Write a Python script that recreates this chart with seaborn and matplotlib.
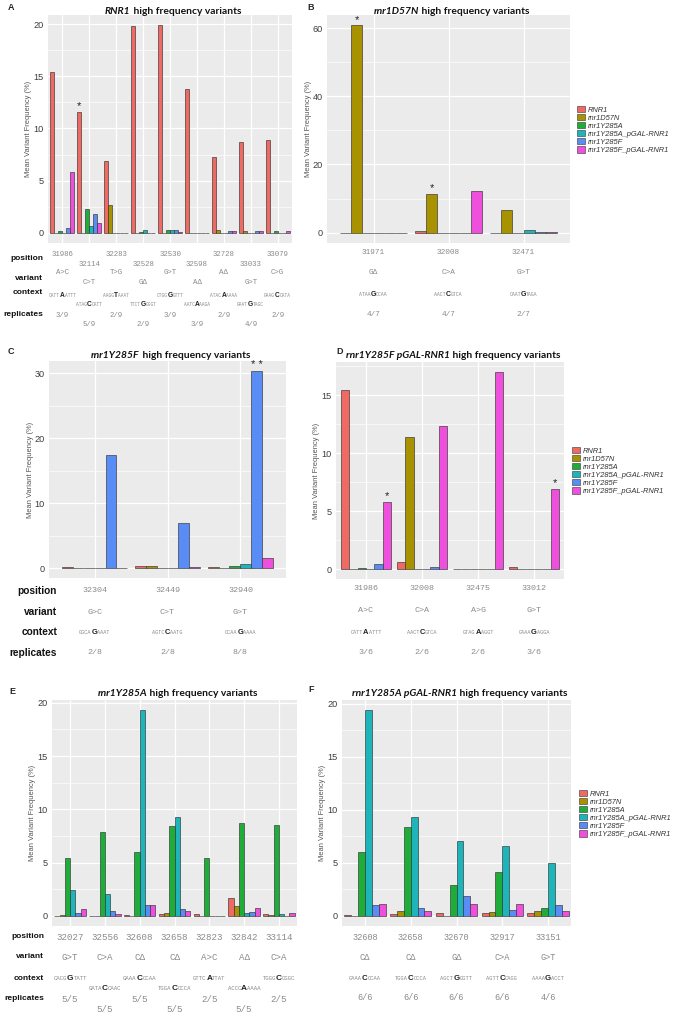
import numpy as np
import pandas as pd
import matplotlib
matplotlib.use("Agg")
import matplotlib.pyplot as plt
import seaborn as sns
from matplotlib.patches import Patch
from matplotlib.transforms import blended_transform_factory
from matplotlib.offsetbox import TextArea, HPacker, AnnotationBbox
from matplotlib.ticker import MultipleLocator

sns.set_style("white")
plt.rcParams["font.family"] = ["Liberation Sans", "DejaVu Sans"]

W, H = 675, 1019

strains = ["RNR1", "rnr1D57N", "rnr1Y285A", "rnr1Y285A_pGAL-RNR1", "rnr1Y285F", "rnr1Y285F_pGAL-RNR1"]
colors = ["#EE6A63", "#A99200", "#1FAD3A", "#1DB5B9", "#5A8CF5", "#EE4FDD"]

# ---- panel A: RNR1
a_pos = ["31986", "32114", "32283", "32528", "32530", "32598", "32728", "33033", "33079"]
a_var = ["A>C", "C>T", "T>G", "GΔ", "G>T", "AΔ", "AΔ", "G>T", "C>G"]
a_ctx = [("CATT", "A", "ATTT"), ("ATAG", "C", "CATT"), ("AAGG", "T", "AAAT"), ("TTCT", "G", "GGGT"),
         ("CTGG", "G", "GTTT"), ("AATC", "A", "AAGA"), ("ATAC", "A", "AAAA"), ("GAAT", "G", "TAGC"),
         ("GAAG", "C", "CATA")]
a_rep = ["3/9", "5/9", "2/9", "2/9", "3/9", "3/9", "2/9", "4/9", "2/9"]
a_rnr1 = [15.4, 11.6, 6.9, 19.8, 19.9, 13.8, 7.3, 8.7, 8.9]
a_d57n = [0, 0, 2.7, 0, 0, 0, 0.3, 0.2, 0]
a_y285a = [0.15, 2.3, 0, 0.1, 0.25, 0, 0, 0, 0.2]
a_y285a_gal = [0, 0.6, 0, 0.3, 0.3, 0, 0, 0, 0]
a_y285f = [0.4, 1.8, 0, 0, 0.25, 0, 0.2, 0.15, 0]
a_y285f_gal = [5.8, 0.9, 0, 0, 0.1, 0, 0.2, 0.15, 0.15]
a_stars = [("32114", "RNR1", "*")]

# ---- panel B: rnr1D57N
b_pos = ["31971", "32008", "32471"]
b_var = ["GΔ", "C>A", "G>T"]
b_ctx = [("ATAA", "G", "CCAA"), ("AACT", "C", "GTCA"), ("CAAT", "G", "TAGA")]
b_rep = ["4/7", "4/7", "2/7"]
b_rnr1 = [0, 0.6, 0]
b_d57n = [60.8, 11.3, 6.6]
b_y285a = [0, 0, 0]
b_y285a_gal = [0, 0, 0.9]
b_y285f = [0, 0, 0.2]
b_y285f_gal = [0, 12.3, 0.1]
b_stars = [("31971", "rnr1D57N", "*"), ("32008", "rnr1D57N", "*")]

# ---- panel C: rnr1Y285F
c_pos = ["32304", "32449", "32940"]
c_var = ["G>C", "C>T", "G>T"]
c_ctx = [("GGCA", "G", "AAAT"), ("AGTC", "C", "AATG"), ("CCAA", "G", "AAAA")]
c_rep = ["2/8", "2/8", "8/8"]
c_rnr1 = [0.1, 0.4, 0.2]
c_d57n = [0, 0.3, 0]
c_y285a = [0, 0, 0.35]
c_y285a_gal = [0, 0, 0.7]
c_y285f = [17.5, 7.0, 30.4]
c_y285f_gal = [0, 0.2, 1.5]
c_stars = [("32940", "rnr1Y285F", "* *")]

# ---- panel D: rnr1Y285F pGAL-RNR1
d_pos = ["31986", "32008", "32475", "33012"]
d_var = ["A>C", "C>A", "A>G", "G>T"]
d_ctx = [("CATT", "A", "ATTT"), ("AACT", "C", "GTCA"), ("GTAG", "A", "AGGT"), ("GAAA", "G", "AGGA")]
d_rep = ["3/6", "2/6", "2/6", "3/6"]
d_rnr1 = [15.4, 0.6, 0, 0.15]
d_d57n = [0, 11.4, 0, 0]
d_y285a = [0.1, 0, 0, 0]
d_y285a_gal = [0, 0, 0, 0]
d_y285f = [0.4, 0.15, 0, 0]
d_y285f_gal = [5.8, 12.3, 17.0, 6.9]
d_stars = [("31986", "rnr1Y285F_pGAL-RNR1", "*"), ("33012", "rnr1Y285F_pGAL-RNR1", "*")]

# ---- panel E: rnr1Y285A
e_pos = ["32027", "32556", "32608", "32658", "32823", "32842", "33114"]
e_var = ["G>T", "C>A", "CΔ", "CΔ", "A>C", "AΔ", "C>A"]
e_ctx = [("CACG", "G", "TATT"), ("GATA", "C", "CAAC"), ("GAAA", "C", "CCAA"), ("TGGA", "C", "CCCA"),
         ("GTTC", "A", "TTAT"), ("ACCC", "A", "AAAA"), ("TGGG", "C", "CGGC")]
e_rep = ["5/5", "5/5", "5/5", "5/5", "2/5", "5/5", "2/5"]
e_rnr1 = [0, 0, 0.1, 0.15, 0.15, 1.65, 0.2]
e_d57n = [0.1, 0, 0, 0.3, 0, 0.95, 0.1]
e_y285a = [5.4, 7.9, 6.0, 8.4, 5.45, 8.7, 8.5]
e_y285a_gal = [2.4, 2.0, 19.3, 9.3, 0, 0.25, 0.15]
e_y285f = [0.3, 0.45, 1.0, 0.65, 0, 0.35, 0]
e_y285f_gal = [0.6, 0.15, 1.05, 0.45, 0, 0.7, 0.3]

# ---- panel F: rnr1Y285A pGAL-RNR1
f_pos = ["32608", "32658", "32670", "32917", "33151"]
f_var = ["CΔ", "CΔ", "GΔ", "C>A", "G>T"]
f_ctx = [("GAAA", "C", "CCAA"), ("TGGA", "C", "CCCA"), ("AGCT", "G", "GGTT"), ("AGTT", "C", "CAGG"),
         ("AAAA", "G", "ACCT")]
f_rep = ["6/6", "6/6", "6/6", "6/6", "4/6"]
f_rnr1 = [0.1, 0.2, 0.3, 0.25, 0.3]
f_d57n = [0, 0.4, 0, 0.35, 0.45]
f_y285a = [6.0, 8.4, 2.9, 4.1, 0.75]
f_y285a_gal = [19.4, 9.3, 7.1, 6.6, 5.0]
f_y285f = [1.0, 0.7, 1.9, 0.55, 1.0]
f_y285f_gal = [1.1, 0.45, 1.1, 1.15, 0.4]

panels = [
    dict(letter="A", gene="RNR1", pos=a_pos, var=a_var, ctx=a_ctx, rep=a_rep,
         vals=[a_rnr1, a_d57n, a_y285a, a_y285a_gal, a_y285f, a_y285f_gal], stars=a_stars,
         rect=(48, 15, 292, 243), pad=0.035, step=5, letter_xy=(8, 8), title_y=11,
         rows=[(254, 264), (273, 283), (295, 304), (316, 325)], lab_y=[258, 278, 293, 314], lab_x=43,
         lab_size=6, val_size=5.3, legend=None),
    dict(letter="B", gene="rnr1D57N", pos=b_pos, var=b_var, ctx=b_ctx, rep=b_rep,
         vals=[b_rnr1, b_d57n, b_y285a, b_y285a_gal, b_y285f, b_y285f_gal], stars=b_stars,
         rect=(327, 15, 570, 243), pad=0.12, step=20, letter_xy=(307, 8), title_y=11,
         rows=[(253,), (273,), (294,), (315,)], lab_y=None, lab_x=None,
         lab_size=6, val_size=5.6, legend=(577, 130)),
    dict(letter="C", gene="rnr1Y285F", pos=c_pos, var=c_var, ctx=c_ctx, rep=c_rep,
         vals=[c_rnr1, c_d57n, c_y285a, c_y285a_gal, c_y285f, c_y285f_gal], stars=c_stars,
         rect=(49, 361, 286, 578), pad=0.125, step=10, letter_xy=(8, 352), title_y=355,
         rows=[(591,), (612,), (632,), (653,)], lab_y=[591, 612, 632, 653], lab_x=57,
         lab_size=7.3, val_size=6, legend=None),
    dict(letter="D", gene="rnr1Y285F pGAL-RNR1", pos=d_pos, var=d_var, ctx=d_ctx, rep=d_rep,
         vals=[d_rnr1, d_d57n, d_y285a, d_y285a_gal, d_y285f, d_y285f_gal], stars=d_stars,
         rect=(336, 362, 564, 579), pad=0.035, step=5, letter_xy=(336, 351), title_y=355,
         rows=[(589,), (610,), (632,), (652,)], lab_y=None, lab_x=None,
         lab_size=6, val_size=6, legend=(572, 471)),
    dict(letter="E", gene="rnr1Y285A", pos=e_pos, var=e_var, ctx=e_ctx, rep=e_rep,
         vals=[e_rnr1, e_d57n, e_y285a, e_y285a_gal, e_y285f, e_y285f_gal], stars=[],
         rect=(52, 700, 297, 926), pad=0.02, step=5, letter_xy=(9, 691), title_y=694,
         rows=[(937,), (957,), (978, 989), (999, 1010)], lab_y=[937, 957, 978, 999], lab_x=44,
         lab_size=6, val_size=6.6, legend=None),
    dict(letter="F", gene="rnr1Y285A pGAL-RNR1", pos=f_pos, var=f_var, ctx=f_ctx, rep=f_rep,
         vals=[f_rnr1, f_d57n, f_y285a, f_y285a_gal, f_y285f, f_y285f_gal], stars=[],
         rect=(342, 700, 571, 926), pad=0.0, step=5, letter_xy=(308, 690), title_y=694,
         rows=[(937,), (957,), (978,), (998,)], lab_y=None, lab_x=None,
         lab_size=6, val_size=6.2, legend=(579, 814)),
]

row_names = ["position", "variant", "context", "replicates"]
GRAY = "#8a8a8a"


def fx(x):
    return x / W


def fy(y):
    return 1 - y / H


fig = plt.figure(figsize=(W / 100, H / 100), dpi=100)

for p in panels:
    l, t, r, b = p["rect"]
    ax = fig.add_axes([fx(l), fy(b), (r - l) / W, (b - t) / H])
    n = len(p["pos"])
    df = pd.DataFrame({
        "position": np.tile(p["pos"], len(strains)),
        "strain": np.repeat(strains, n),
        "freq": np.concatenate(p["vals"]),
    })
    sns.barplot(data=df, x="position", y="freq", hue="strain", order=p["pos"], hue_order=strains,
                palette=colors, saturation=1, width=0.9, edgecolor="#333333", linewidth=0.45,
                errorbar=None, legend=False, ax=ax)

    ymax = df["freq"].max()
    ax.set_ylim(-0.05 * ymax, 1.05 * ymax)
    ax.set_xlim(-0.5 - p["pad"], n - 0.5 + p["pad"])
    ax.set_facecolor("#EBEBEB")
    for s in ax.spines.values():
        s.set_visible(False)
    ax.yaxis.set_major_locator(MultipleLocator(p["step"]))
    ax.yaxis.set_minor_locator(MultipleLocator(p["step"] / 2))
    ax.set_axisbelow(True)
    ax.grid(which="major", color="white", lw=0.9)
    ax.grid(which="minor", axis="y", color="white", lw=0.45)
    ax.set_xticks(range(n))
    ax.set_xticklabels([])
    ax.tick_params(axis="x", length=2.5, width=0.5, color="#555555")
    ax.tick_params(axis="y", which="major", length=2, width=0.5, color="#555555",
                   labelsize=6.6, labelcolor="#3d3d3d", pad=1)
    ax.tick_params(axis="y", which="minor", length=0)
    ax.set_xlabel("")
    ax.set_ylabel("")
    fig.text(fx(l - 19), fy((t + b) / 2), "Mean Variant Frequency (%)", rotation=90,
             ha="center", va="center", fontsize=5.4, color="#555555")

    # significance marks over bars
    for pos, strain, mark in p["stars"]:
        bar = ax.containers[strains.index(strain)][p["pos"].index(pos)]
        ax.annotate(mark, (bar.get_x() + bar.get_width() / 2, bar.get_height()),
                    xytext=(0, 0.5), textcoords="offset points", ha="center", va="bottom",
                    fontsize=8, color="#222222")

    # title with italic gene name
    title = HPacker(children=[
        TextArea(p["gene"], textprops=dict(fontsize=7.4, fontweight="bold", fontstyle="italic",
                                           family="Lato", color="#111111")),
        TextArea(" high frequency variants", textprops=dict(fontsize=7.4, fontweight="bold",
                                                            family="Lato", color="#111111")),
    ], align="baseline", pad=0, sep=0)
    fig.add_artist(AnnotationBbox(title, (fx((l + r) / 2 + 3), fy(p["title_y"])), xycoords="figure fraction",
                                  box_alignment=(0.5, 0.5), frameon=False, pad=0))
    fig.text(fx(p["letter_xy"][0]), fy(p["letter_xy"][1]), p["letter"], fontsize=6.5,
             fontweight="bold", ha="left", va="center")

    # rows of annotations below the axis
    tr = blended_transform_factory(ax.transData, fig.transFigure)
    vs = p["val_size"]
    for i in range(n):
        ys = p["rows"]
        fig.text(i, fy(ys[0][i % len(ys[0])]), p["pos"][i], transform=tr, ha="center", va="center",
                 fontsize=vs, family="Liberation Mono", color=GRAY)
        fig.text(i, fy(ys[1][i % len(ys[1])]), p["var"][i], transform=tr, ha="center", va="center",
                 fontsize=vs, family="Liberation Mono", color=GRAY)
        pre, mid, post = p["ctx"][i]
        ctx = HPacker(children=[
            TextArea(pre, textprops=dict(fontsize=vs * 0.62, family="Liberation Mono", color=GRAY)),
            TextArea(mid, textprops=dict(fontsize=vs * 0.9, family="Liberation Sans",
                                         fontweight="bold", color="#222222")),
            TextArea(post, textprops=dict(fontsize=vs * 0.62, family="Liberation Mono", color=GRAY)),
        ], align="baseline", pad=0, sep=0)
        fig.add_artist(AnnotationBbox(ctx, (i, fy(ys[2][i % len(ys[2])])), xycoords=tr,
                                      box_alignment=(0.5, 0.5), frameon=False, pad=0))
        fig.text(i, fy(ys[3][i % len(ys[3])]), p["rep"][i], transform=tr, ha="center", va="center",
                 fontsize=vs, family="Liberation Mono", color=GRAY)

    if p["lab_x"] is not None:
        for name, yy in zip(row_names, p["lab_y"]):
            fig.text(fx(p["lab_x"]), fy(yy), name, ha="right", va="center", fontsize=p["lab_size"],
                     fontweight="bold", color="#111111")

    if p["legend"] is not None:
        handles = [Patch(facecolor=c, edgecolor="#333333", lw=0.4) for c in colors]
        fig.legend(handles, strains, loc="center left",
                   bbox_to_anchor=(fx(p["legend"][0]), fy(p["legend"][1])),
                   bbox_transform=fig.transFigure, frameon=False,
                   prop=dict(style="italic", size=5.4, family="Liberation Sans"),
                   labelcolor="#333333", handlelength=1.0, handleheight=0.9,
                   labelspacing=0.05, handletextpad=0.5, borderpad=0, borderaxespad=0)

fig.savefig("out.png", dpi=100, facecolor="white")
